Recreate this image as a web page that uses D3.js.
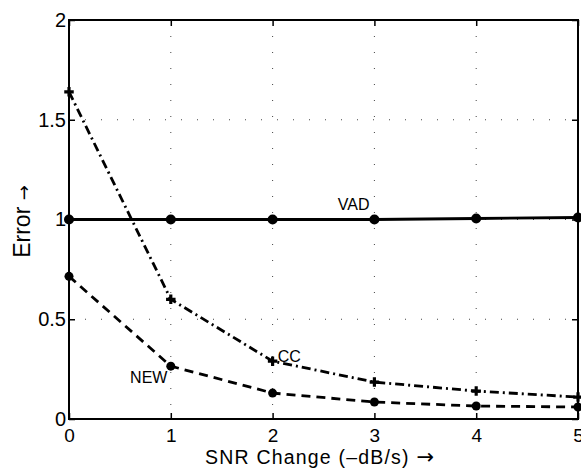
<!DOCTYPE html>
<html>
<head>
<meta charset="utf-8">
<script src="https://cdn.jsdelivr.net/npm/d3@7"></script>
<style>
  body { margin: 0; background: #fff; }
  text { font-family: "Liberation Sans", Arial, sans-serif; fill: #000; }
  .arrow { font-family: "DejaVu Sans", sans-serif; }
</style>
</head>
<body>
<div id="chart"></div>
<script>
var snr = [0, 1, 2, 3, 4, 5]
var vad = [1.0, 1.0, 1.0, 1.0, 1.005, 1.01]
var cc = [1.64, 0.60, 0.29, 0.185, 0.14, 0.11]
var newErr = [0.715, 0.265, 0.13, 0.085, 0.065, 0.06]
var xTicks = [0, 1, 2, 3, 4, 5]
var yTicks = [0, 0.5, 1, 1.5, 2]

var margin = {top: 20, right: 3, bottom: 50, left: 69}
var width = 581 - margin.left - margin.right
var height = 469 - margin.top - margin.bottom

var svg = d3.select("#chart").append("svg")
  .attr("width", 581)
  .attr("height", 469)
  .append("g")
  .attr("transform", "translate(" + margin.left + "," + margin.top + ")")

var x = d3.scaleLinear().domain([0, 5]).range([0, width])
var y = d3.scaleLinear().domain([0, 2]).range([height, 0])

// sparse dotted grid
svg.append("g").selectAll("line.gx")
  .data(xTicks.slice(1, -1)).enter().append("line")
  .attr("x1", d => x(d)).attr("x2", d => x(d))
  .attr("y1", 0).attr("y2", height)
  .attr("stroke", "#444").attr("stroke-width", 1)
  .attr("stroke-dasharray", "1,15")
svg.append("g").selectAll("line.gy")
  .data(yTicks.slice(1, -1)).enter().append("line")
  .attr("y1", d => y(d)).attr("y2", d => y(d))
  .attr("x1", 0).attr("x2", width)
  .attr("stroke", "#444").attr("stroke-width", 1)
  .attr("stroke-dasharray", "1,15")

// box
svg.append("rect")
  .attr("width", width).attr("height", height)
  .attr("fill", "none").attr("stroke", "#000").attr("stroke-width", 2)

// axes with inward ticks
var xAxis = d3.axisBottom(x).tickValues(xTicks).tickSize(-6).tickPadding(10).tickFormat(d3.format("d"))
var yAxis = d3.axisLeft(y).tickValues(yTicks).tickSize(-6).tickPadding(3).tickFormat(d => d)

var gx = svg.append("g").attr("transform", "translate(0," + height + ")").call(xAxis)
var gy = svg.append("g").call(yAxis)
svg.append("g").call(d3.axisTop(x).tickValues(xTicks).tickSize(-6).tickFormat(""))
svg.append("g").attr("transform", "translate(" + width + ",0)")
  .call(d3.axisRight(y).tickValues(yTicks).tickSize(-6).tickFormat(""))

svg.selectAll(".domain").remove()
svg.selectAll(".tick line").attr("stroke", "#000").attr("stroke-width", 1.5)
gx.selectAll("text").style("font-size", "19px").attr("fill", "#000")
gy.selectAll("text").style("font-size", "20px").attr("fill", "#000")

// lines
var line = d3.line().x((d, i) => x(snr[i])).y(d => y(d))

svg.append("path").datum(vad).attr("d", line)
  .attr("fill", "none").attr("stroke", "#000").attr("stroke-width", 2.8)
svg.append("path").datum(cc).attr("d", line)
  .attr("fill", "none").attr("stroke", "#000").attr("stroke-width", 2.8)
  .attr("stroke-dasharray", "9,4,2,4")
svg.append("path").datum(newErr).attr("d", line)
  .attr("fill", "none").attr("stroke", "#000").attr("stroke-width", 2.8)
  .attr("stroke-dasharray", "9,6")

// markers
svg.append("g").selectAll("circle.vad").data(vad).enter().append("circle")
  .attr("cx", (d, i) => x(snr[i])).attr("cy", d => y(d)).attr("r", 5).attr("fill", "#000")
svg.append("g").selectAll("circle.new").data(newErr).enter().append("circle")
  .attr("cx", (d, i) => x(snr[i])).attr("cy", d => y(d)).attr("r", 4.5).attr("fill", "#000")
svg.append("g").selectAll("path.cc").data(cc).enter().append("path")
  .attr("transform", (d, i) => "translate(" + x(snr[i]) + "," + y(d) + ")")
  .attr("d", d3.symbol().type(d3.symbolCross).size(50))
  .attr("fill", "#000")

// series labels
svg.append("text").attr("x", x(2.64)).attr("y", y(1.05)).style("font-size", "16px").text("VAD")
svg.append("text").attr("x", x(2.05)).attr("y", y(0.286)).style("font-size", "16px").text("CC")
svg.append("text").attr("x", x(0.6)).attr("y", y(0.18)).style("font-size", "16px").text("NEW")

// axis titles
var xt = svg.append("text")
  .attr("x", 136).attr("y", height + 45)
  .style("font-size", "19.5px").style("letter-spacing", "1.2px")
xt.append("tspan").text("SNR Change (\u2013dB/s) ")
xt.append("tspan").attr("class", "arrow").style("font-size", "21px").text("\u2192")

var yt = svg.append("text")
  .attr("transform", "translate(" + (-39) + "," + (height / 2 + 2) + ") rotate(-90)")
  .attr("text-anchor", "middle").style("font-size", "23px")
yt.append("tspan").text("Error ")
yt.append("tspan").attr("class", "arrow").style("font-size", "18px").text("\u2192")
</script>
</body>
</html>
